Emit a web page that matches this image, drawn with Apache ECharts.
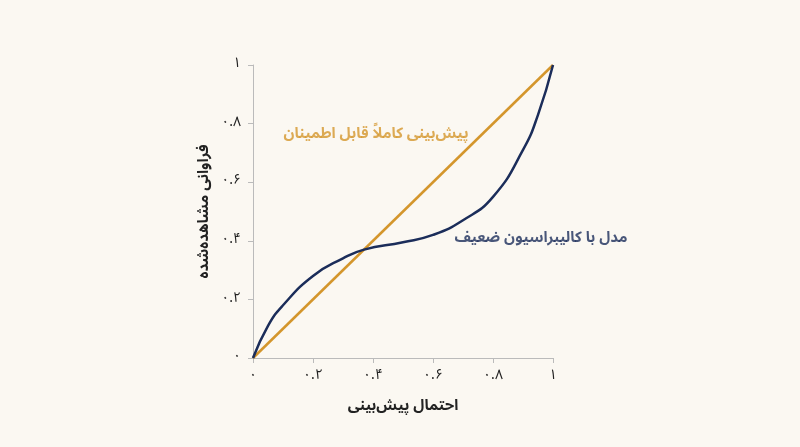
<!DOCTYPE html>
<html><head><meta charset="utf-8">
<script src="https://cdn.jsdelivr.net/npm/echarts@6/dist/echarts.min.js"></script>
<style>html,body{margin:0;background:#fbf8f2}#c{width:800px;height:447px}</style>
</head><body><div id="c"></div>
<script>
const perfectX = [0, 1];
const perfectY = [0, 1];
const modelX = [0, 0.05, 0.1, 0.2, 0.3, 0.37, 0.5, 0.6, 0.7, 0.8, 0.9, 0.95, 1];
const modelY = [0, 0.11, 0.18, 0.28, 0.34, 0.37, 0.395, 0.42, 0.47, 0.55, 0.71, 0.83, 1];
const tickLabels = {0:'۰',0.2:'۰.۲',0.4:'۰.۴',0.6:'۰.۶',0.8:'۰.۸',1:'۱'};
const font = '"Noto Sans Arabic","DejaVu Sans",sans-serif';
const fmt = v => tickLabels[Math.round(v*10)/10] ?? '';
const axisCommon = {
  min:0,max:1,interval:0.2,
  axisLine:{show:true,lineStyle:{color:'#bbb',width:1}},
  axisTick:{show:true,length:5,lineStyle:{color:'#bbb'}},
  splitLine:{show:false},
  axisLabel:{formatter:fmt,color:'#222',fontSize:14,fontFamily:font},
  nameTextStyle:{color:'#222',fontSize:15,fontWeight:'bold',fontFamily:font}
};
const chart = echarts.init(document.getElementById('c'));
chart.setOption({
  backgroundColor:'#fbf8f2',
  grid:{left:253,top:65,width:300,height:293},
  xAxis:Object.assign({type:'value',name:'احتمال پیش‌بینی',nameLocation:'middle',nameGap:42},axisCommon,{axisLabel:Object.assign({},axisCommon.axisLabel,{margin:12})}),
  yAxis:Object.assign({type:'value',name:'فراوانی مشاهده‌شده',nameLocation:'middle',nameGap:40},axisCommon,{axisLabel:Object.assign({},axisCommon.axisLabel,{margin:12})}),
  series:[
    {type:'line',data:perfectX.map((x,i)=>[x,perfectY[i]]),symbol:'none',lineStyle:{color:'#d4962c',width:2.5},z:2},
    {type:'line',data:modelX.map((x,i)=>[x,modelY[i]]),smooth:0.5,symbol:'none',lineStyle:{color:'#1b2d5a',width:2.5},z:3},
    {type:'scatter',symbolSize:0,silent:true,data:[
      {value:[0.41,0.76],label:{show:true,formatter:'پیش‌بینی کاملاً قابل اطمینان',color:'#d4962c',fontSize:15,fontWeight:'bold',fontFamily:font}},
      {value:[0.96,0.405],label:{show:true,formatter:'مدل با کالیبراسیون ضعیف',color:'#1b2d5a',fontSize:15,fontWeight:'bold',fontFamily:font}}
    ]}
  ]
});
</script></body></html>
